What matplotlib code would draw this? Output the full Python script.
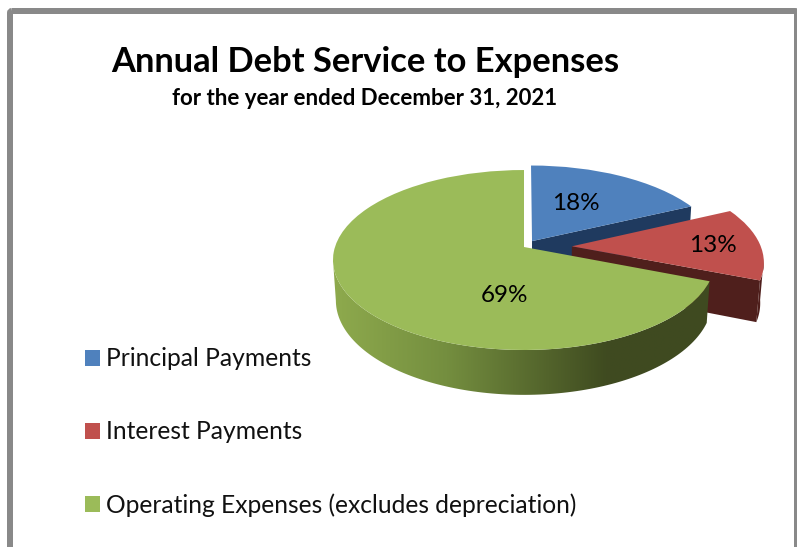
import numpy as np
import matplotlib
matplotlib.use("Agg")
import matplotlib.pyplot as plt
from matplotlib.colors import LinearSegmentedColormap
from matplotlib.patches import FancyBboxPatch, Polygon
from matplotlib.transforms import Transform

categories = ["Principal Payments", "Interest Payments",
              "Operating Expenses (excludes depreciation)"]
shares = [18, 13, 69]
explode = [0.08, 0.254, 0]
top_colors = ["#4F81BD", "#C0504D", "#9BBB59"]
wall_colors = ["#1F3A5F", "#4F1F1C", "#3F4B20"]

TITLE = "Annual Debt Service to Expenses"
SUBTITLE = "for the year ended December 31, 2021"

# Camera used to tilt the flat pie into a thick disc, in pixel units.
ORIGIN = (524.0, 247.0)
SCALE_X, SCALE_Y = 189.0, 88.1
TILT = 0.1446
THICKNESS = 40.6
SHRINK = 0.015
# Angle on the rim where the projected disc reaches its widest point.
WIDEST = np.degrees(np.arcsin(TILT))


def project(x, y, z=0.0):
    s = 1.0 / (1.0 + TILT * y + SHRINK * z)
    return ORIGIN[0] + SCALE_X * x * s, ORIGIN[1] + (-SCALE_Y * y + THICKNESS * z) * s


class TiltTransform(Transform):
    input_dims = 2
    output_dims = 2
    is_separable = False
    has_inverse = False

    def transform_non_affine(self, values):
        values = np.asarray(values, dtype=float)
        px, py = project(values[:, 0], values[:, 1])
        return np.column_stack([px, py])


def outer_wall(wedge, start, stop, steps=120):
    t = np.radians(np.linspace(start, stop, steps))
    x = wedge.center[0] + wedge.r * np.cos(t)
    y = wedge.center[1] + wedge.r * np.sin(t)
    tx, ty = project(x, y, 0.0)
    bx, by = project(x, y, 1.0)
    return np.column_stack([np.r_[tx, bx[::-1]], np.r_[ty, by[::-1]]])


def radial_wall(wedge):
    t = np.radians(wedge.theta1)
    x = np.array([wedge.center[0], wedge.center[0] + wedge.r * np.cos(t)])
    y = np.array([wedge.center[1], wedge.center[1] + wedge.r * np.sin(t)])
    tx, ty = project(x, y, 0.0)
    bx, by = project(x, y, 1.0)
    return np.column_stack([np.r_[tx, bx[::-1]], np.r_[ty, by[::-1]]])


plt.rcParams["font.family"] = ["Lato", "DejaVu Sans"]

fig = plt.figure(figsize=(7.97, 5.47), dpi=100, facecolor="white")
ax = fig.add_axes([0, 0, 1, 1])

wedges, _ = ax.pie(shares, explode=explode, colors=top_colors,
                   startangle=90, counterclock=False, radius=1.0)
tilt = TiltTransform() + ax.transData

# Stack the slices back to front: blue, red, then the large green slice.
for i, wedge in enumerate(wedges):
    base = i * 2 + 1
    wedge.set_transform(tilt)
    wedge.set_zorder(base + 1)
    wedge.set_edgecolor("none")

blue, red, green = wedges
ax.add_patch(Polygon(radial_wall(blue), closed=True, facecolor=wall_colors[0],
                     edgecolor="none", zorder=1))
ax.add_patch(Polygon(radial_wall(red), closed=True, facecolor=wall_colors[1],
                     edgecolor="none", zorder=3))
ax.add_patch(Polygon(outer_wall(red, red.theta1, -WIDEST), closed=True,
                     facecolor=wall_colors[1], edgecolor="none", zorder=3))

# The green wall carries a horizontal shading ramp; it runs from the leftmost
# rim point round the front to the end of the slice.
green_verts = outer_wall(green, -180 + WIDEST, green.theta2)
shade = LinearSegmentedColormap.from_list(
    "wall", [(0.0, "#8EAA4D"), (0.3, "#748E3F"), (0.72, "#3F4B20"), (1.0, "#3F4A21")])
ramp = ax.imshow(np.linspace(0, 1, 256)[None, :], cmap=shade, aspect="auto",
                 extent=(333, 712, 400, 250), zorder=5, interpolation="bilinear")
ramp.set_clip_path(Polygon(green_verts, closed=True, transform=ax.transData))

ax.set_aspect("auto")
ax.set_xlim(0, 797)
ax.set_ylim(547, 0)
ax.axis("off")

# Slice percentages
label_spots = [(576, 203), (713, 246), (505, 295)]
for share, (lx, ly) in zip(shares, label_spots):
    ax.text(lx, ly, f"{share}%", fontsize=17.5, color="black",
            ha="center", va="center", zorder=8)

# Titles
ax.text(365, 72, TITLE, fontsize=24.8, fontweight="bold", ha="center",
        va="baseline", color="black", zorder=8)
ax.text(364.5, 105, SUBTITLE, fontsize=16.0, fontweight="bold", ha="center",
        va="baseline", color="black", zorder=8)

# Legend down the lower left
legend_size = 17.7
swatch = 10.8 / legend_size
ax.legend(wedges, categories, loc="upper left", bbox_to_anchor=(85, 347.5),
          bbox_transform=ax.transData, frameon=False, fontsize=legend_size,
          labelspacing=2.03, handlelength=swatch, handleheight=swatch,
          handletextpad=0.25, borderpad=0, borderaxespad=0, labelcolor="#111111")

# Grey chart frame, running past the bottom edge
ax.add_patch(FancyBboxPatch((10, 11), 787, 620, boxstyle="round,pad=0,rounding_size=2",
                            facecolor="none", edgecolor="#898989", linewidth=4.32,
                            clip_on=False, zorder=9))

fig.savefig("out.png", dpi=100)
